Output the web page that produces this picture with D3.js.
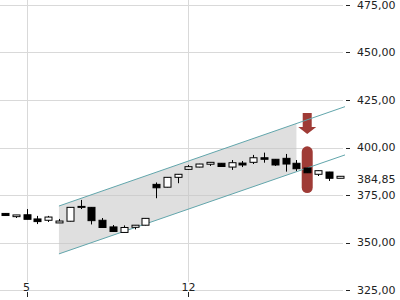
<!DOCTYPE html>
<html>
<head>
<meta charset="utf-8">
<script src="https://cdn.jsdelivr.net/npm/d3@7"></script>
<style>
body { margin: 0; background: #fff; }
text { font-family: "DejaVu Sans", sans-serif; }
</style>
</head>
<body>
<div id="chart-area"></div>
<script>
var width = 400;
var height = 300;

// candles, one per period
var opens  = [365.3, 363.6, 364.6, 362.4, 361.7, 360.3, 361.2, 368.7, 368.5, 361.7, 358.2, 355.3, 358.0, 359.1, 380.6, 379.1,
              384.3, 388.5, 389.7, 391.2, 391.7, 389.7, 391.8, 392.2, 394.6, 393.8, 394.3, 391.7, 389.2, 385.9, 387.1, 383.8];
var highs  = [365.4, 364.5, 367.6, 364.0, 364.0, 362.4, 368.6, 372.4, 368.6, 362.9, 359.2, 359.0, 359.2, 362.8, 381.6, 384.4,
              386.0, 390.8, 391.4, 392.3, 391.8, 393.4, 392.9, 396.1, 397.3, 393.9, 396.6, 393.4, 389.3, 387.9, 387.2, 384.9];
var lows   = [364.1, 362.9, 362.2, 359.7, 360.8, 360.3, 361.1, 367.6, 359.5, 357.8, 355.7, 355.2, 356.9, 359.0, 373.3, 379.0,
              381.2, 388.2, 389.6, 390.3, 389.9, 388.2, 389.7, 391.3, 392.0, 390.3, 387.3, 387.6, 386.6, 385.0, 382.4, 383.8];
var closes = [364.2, 364.5, 362.2, 361.0, 363.4, 361.3, 368.5, 369.0, 361.5, 357.9, 355.8, 357.9, 359.1, 362.7, 378.8, 384.3,
              385.9, 389.9, 391.3, 392.2, 390.0, 392.0, 390.8, 394.6, 393.8, 390.8, 391.3, 388.8, 386.7, 387.8, 383.8, 384.85];

var xTickIdx = [2, 17];
var xTickLabels = ["5", "12"];
var yTicks = [325, 350, 375, 400, 425, 450, 475];
var lastPrice = 384.85;

// trend channel
var channelIdx = [5, 31.5];
var channelUpper = [369.2, 421.5];
var channelLower = [344.0, 396.1];
var channelShadeEnd = 27;

// sell signal
var signalIdx = 28;
var signalPill = [376.0, 400.6];
var signalArrow = [418.2, 407.1];

var fmt = function(v) { return d3.format(".2f")(v).replace(".", ","); };

var svg = d3.select("#chart-area")
  .append("svg")
    .attr("width", width)
    .attr("height", height);

var x = d3.scaleLinear().domain([-0.46, 31.5]).range([0, 345]);
var y = d3.scaleLinear().domain([325, 475]).range([290, 5]);

var up = d3.scaleLinear().domain(channelIdx).range(channelUpper);
var lo = d3.scaleLinear().domain(channelIdx).range(channelLower);

// grid
svg.append("g").selectAll("line").data(yTicks).enter().append("line")
  .attr("x1", 0).attr("x2", 343)
  .attr("y1", function(d) { return Math.round(y(d)) + 0.5; })
  .attr("y2", function(d) { return Math.round(y(d)) + 0.5; })
  .attr("stroke", "#d9d9d9");

svg.append("g").selectAll("line").data(xTickIdx).enter().append("line")
  .attr("x1", function(d) { return Math.round(x(d)) + 0.5; })
  .attr("x2", function(d) { return Math.round(x(d)) + 0.5; })
  .attr("y1", 0).attr("y2", 282)
  .attr("stroke", "#d9d9d9");

// channel shade
var shade = [[channelIdx[0], up(channelIdx[0])], [channelShadeEnd, up(channelShadeEnd)],
             [channelShadeEnd, lo(channelShadeEnd)], [channelIdx[0], lo(channelIdx[0])]];
svg.append("path")
  .attr("d", "M" + shade.map(function(p) { return x(p[0]) + "," + y(p[1]); }).join("L") + "Z")
  .attr("fill", "#c4c4c4")
  .attr("fill-opacity", 0.55);

// signal pill + arrow
var pillW = 11;
svg.append("rect")
  .attr("x", x(signalIdx) - pillW / 2)
  .attr("y", y(signalPill[1]))
  .attr("width", pillW)
  .attr("height", y(signalPill[0]) - y(signalPill[1]))
  .attr("rx", 5.5)
  .attr("fill", "#9f3b36");

var ax = x(signalIdx), aTop = y(signalArrow[0]), aTip = y(signalArrow[1]);
svg.append("path")
  .attr("d", "M" + (ax - 4.5) + "," + aTop + "L" + (ax + 4.5) + "," + aTop +
             "L" + (ax + 4.5) + "," + (aTip - 7) + "L" + (ax + 9) + "," + (aTip - 7) +
             "L" + ax + "," + aTip + "L" + (ax - 9) + "," + (aTip - 7) +
             "L" + (ax - 4.5) + "," + (aTip - 7) + "Z")
  .attr("fill", "#9f3b36");

// channel lines
[channelUpper, channelLower].forEach(function(c) {
  svg.append("line")
    .attr("x1", x(channelIdx[0])).attr("y1", y(c[0]))
    .attr("x2", x(channelIdx[1])).attr("y2", y(c[1]))
    .attr("stroke", "#62a6ac")
    .attr("stroke-width", 1);
});

// candles
var candles = opens.map(function(o, i) {
  return { i: i, open: o, high: highs[i], low: lows[i], close: closes[i] };
});

var cg = svg.append("g").selectAll("g").data(candles).enter().append("g");

cg.append("line")
  .attr("x1", function(d) { return Math.round(x(d.i)) + 0.5; })
  .attr("x2", function(d) { return Math.round(x(d.i)) + 0.5; })
  .attr("y1", function(d) { return y(d.high); })
  .attr("y2", function(d) { return y(d.low); })
  .attr("stroke", "#000");

cg.append("rect")
  .attr("x", function(d) { return Math.round(x(d.i)) - 3; })
  .attr("y", function(d) { return y(Math.max(d.open, d.close)); })
  .attr("width", 7)
  .attr("height", function(d) { return Math.max(1, Math.abs(y(d.open) - y(d.close))); })
  .attr("fill", function(d) { return d.close >= d.open ? "#fff" : "#000"; })
  .attr("stroke", "#000");

// y axis
var ya = svg.append("g");
ya.selectAll("line").data(yTicks).enter().append("line")
  .attr("x1", 346).attr("x2", 350)
  .attr("y1", function(d) { return Math.round(y(d)) + 0.5; })
  .attr("y2", function(d) { return Math.round(y(d)) + 0.5; })
  .attr("stroke", "#222");
ya.selectAll("text").data(yTicks).enter().append("text")
  .attr("x", 357)
  .attr("y", function(d) { return y(d); })
  .attr("dy", "0.35em")
  .attr("font-size", "11px")
  .style("fill", "#222")
  .text(fmt);

svg.append("text")
  .attr("x", 357)
  .attr("y", y(lastPrice) + 2.5)
  .attr("dy", "0.35em")
  .attr("font-size", "11px")
  .style("fill", "#222")
  .text(fmt(lastPrice));

// x axis
var xa = svg.append("g");
xa.selectAll("line").data(xTickIdx).enter().append("line")
  .attr("x1", function(d) { return Math.round(x(d)) + 0.5; })
  .attr("x2", function(d) { return Math.round(x(d)) + 0.5; })
  .attr("y1", 292).attr("y2", 297)
  .attr("stroke", "#222");
xa.selectAll("text").data(xTickIdx).enter().append("text")
  .attr("x", function(d) { return x(d); })
  .attr("y", 291)
  .attr("text-anchor", "middle")
  .attr("font-size", "11px")
  .style("fill", "#222")
  .text(function(d, i) { return xTickLabels[i]; });
</script>
</body>
</html>
